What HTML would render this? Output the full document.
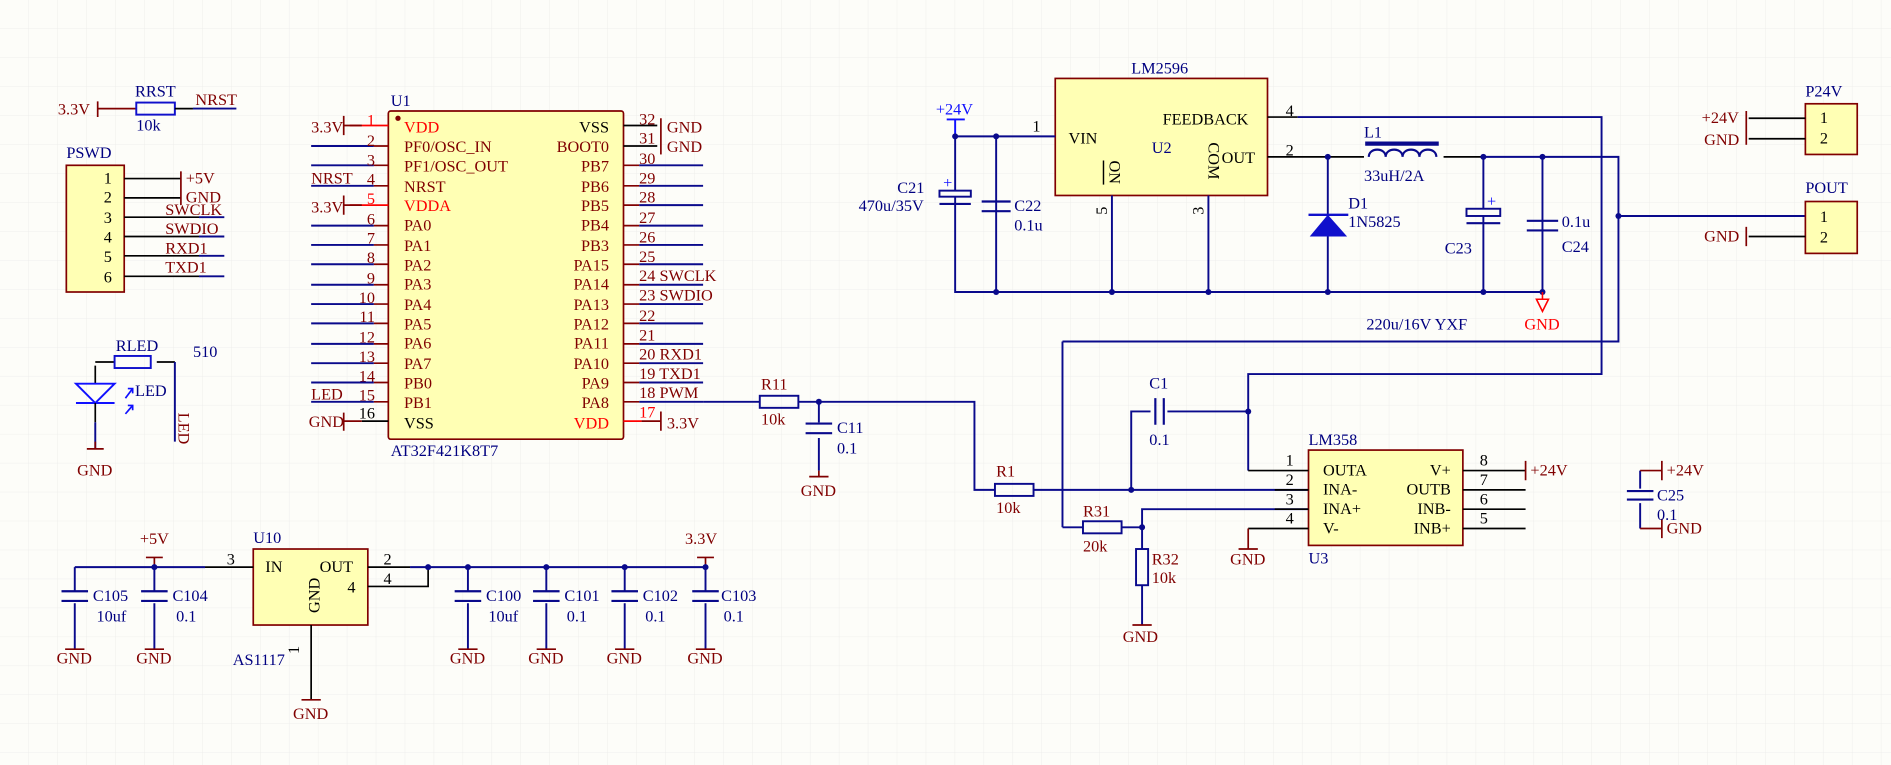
<!DOCTYPE html>
<html><head><meta charset="utf-8"><style>
html,body{margin:0;padding:0;background:#fdfdf9;}
svg{display:block}
text{font-family:"Liberation Serif",serif;font-size:13.5px;}
.r{fill:#800000}.b{fill:#000080}.k{fill:#000}.rd{fill:#ff0000}.bl{fill:#1010ff}
.w{stroke:#0a0a8c;stroke-width:1.6;fill:none}
.p{stroke:#000;stroke-width:1.4;fill:none}
.pr{stroke:#800000;stroke-width:1.4;fill:none}
.box{fill:#ffffb4;stroke:#800000;stroke-width:1.4}
.c{stroke:#0a0a8c;stroke-width:1.8;fill:none}
</style></head><body>
<svg width="1891" height="765" viewBox="0 0 1568 634" preserveAspectRatio="none">
<defs><pattern id="g" width="24" height="24" patternUnits="userSpaceOnUse"><path d="M24 0V24H0" fill="none" stroke="#ececea" stroke-width="0.7"/></pattern></defs>
<rect width="1568" height="634" fill="url(#g)"/>

<!-- RRST -->
<path class="pr" d="M81 84V97M81 90H113"/><text class="r" x="48" y="95">3.3V</text>
<rect x="113" y="85" width="32" height="10" fill="none" stroke="#1010cc" stroke-width="1.6"/>
<path class="p" d="M145 90H160"/><path class="w" d="M160 90H196"/>
<text class="b" x="112" y="80">RRST</text><text class="b" x="113" y="108">10k</text><text class="r" x="162" y="87">NRST</text>

<!-- PSWD -->
<text class="b" x="55" y="131">PSWD</text>
<rect class="box" x="55" y="137" width="48" height="105"/>
<g class="k"><text x="86" y="152">1</text><text x="86" y="168">2</text><text x="86" y="185">3</text><text x="86" y="201">4</text><text x="86" y="217">5</text><text x="86" y="234">6</text></g>
<path class="p" d="M103 148H150M103 164H150M103 180H165M103 196H165M103 212H165M103 229H165"/>
<path class="w" d="M165 180H186M165 196H186M165 212H186M165 229H186"/>
<path class="pr" d="M150 142V170"/>
<text class="r" x="154" y="152">+5V</text><text class="r" x="154" y="168">GND</text>
<text class="r" x="137" y="178">SWCLK</text><text class="r" x="137" y="194">SWDIO</text><text class="r" x="137" y="210">RXD1</text><text class="r" x="137" y="226">TXD1</text>

<!-- LED -->
<text class="b" x="96" y="291">RLED</text><text class="b" x="160" y="296">510</text>
<path class="p" d="M79 303V318M79 300H95M130 300H145"/>
<rect x="95" y="295" width="30" height="10" fill="none" stroke="#1010cc" stroke-width="1.6"/>
<path class="w" d="M145 300V366"/>
<path d="M63 318L95 318L79 334Z" fill="none" stroke="#1010ff" stroke-width="1.6"/><path d="M63 334H95" stroke="#1010ff" stroke-width="1.6"/>
<path d="M104 330L110 322M106 322H110V326M104 343L110 336M106 336H110V340" stroke="#1010ff" stroke-width="1.4" fill="none"/>
<text class="b" x="112" y="328">LED</text>
<text class="r" x="148" y="342" transform="rotate(90 148 342)">LED</text>
<path class="p" d="M79 334V350"/><path class="w" d="M79 350V372"/><path class="pr" d="M72 372H86M79 366V372"/>
<text class="r" x="64" y="394">GND</text>

<!-- U1 -->
<text class="b" x="324" y="88">U1</text>
<rect class="box" x="322" y="92" width="195" height="272" rx="2"/>
<circle cx="330" cy="98" r="2.2" fill="#800000"/>
<text class="b" x="324" y="378">AT32F421K8T7</text>
<g id="L">
<path class="w" d="M258 121H310M258 137H310M258 154H310M258 187H310M258 203H310M258 219H310M258 236H310M258 252H310M258 268H310M258 285H310M258 301H310M258 317H310M258 333H310"/>
<path class="pr" d="M310 121H322M310 137H322M310 154H322M310 187H322M310 203H322M310 219H322M310 236H322M310 252H322M310 268H322M310 285H322M310 301H322M310 317H322M310 333H322"/>
<path class="p" d="M300 349H322"/>
<path d="M290 104H322M290 170H322" stroke="#ff0000" stroke-width="1.4"/>
<path class="pr" d="M285 96V112M285 162V178M285 342V357M285 104H300M285 170H300M285 349H300"/>
</g>
<text class="r" x="258" y="110">3.3V</text><text class="r" x="258" y="176">3.3V</text><text class="r" x="258" y="152">NRST</text><text class="r" x="258" y="331">LED</text><text class="r" x="256" y="354">GND</text>
<g class="r" text-anchor="end">
<text class="rd" x="311" y="104">1</text><text x="311" y="121">2</text><text x="311" y="137">3</text><text x="311" y="153">4</text><text class="rd" x="311" y="169">5</text><text x="311" y="186">6</text><text x="311" y="202">7</text><text x="311" y="218">8</text><text x="311" y="235">9</text><text x="311" y="251">10</text><text x="311" y="267">11</text><text x="311" y="284">12</text><text x="311" y="300">13</text><text x="311" y="316">14</text><text x="311" y="332">15</text><text class="k" x="311" y="347">16</text>
</g>
<g class="r">
<text class="rd" x="335" y="110">VDD</text><text x="335" y="126">PF0/OSC_IN</text><text x="335" y="142">PF1/OSC_OUT</text><text x="335" y="159">NRST</text><text class="rd" x="335" y="175">VDDA</text><text x="335" y="191">PA0</text><text x="335" y="208">PA1</text><text x="335" y="224">PA2</text><text x="335" y="240">PA3</text><text x="335" y="257">PA4</text><text x="335" y="273">PA5</text><text x="335" y="289">PA6</text><text x="335" y="306">PA7</text><text x="335" y="322">PB0</text><text x="335" y="338">PB1</text><text class="k" x="335" y="355">VSS</text>
</g>
<g class="r" text-anchor="end">
<text class="k" x="505" y="110">VSS</text><text x="505" y="126">BOOT0</text><text x="505" y="142">PB7</text><text x="505" y="159">PB6</text><text x="505" y="175">PB5</text><text x="505" y="191">PB4</text><text x="505" y="208">PB3</text><text x="505" y="224">PA15</text><text x="505" y="240">PA14</text><text x="505" y="257">PA13</text><text x="505" y="273">PA12</text><text x="505" y="289">PA11</text><text x="505" y="306">PA10</text><text x="505" y="322">PA9</text><text x="505" y="338">PA8</text><text class="rd" x="505" y="355">VDD</text>
</g>
<path class="p" d="M517 104H545M517 121H545"/>
<path class="pr" d="M548 98V128"/>
<path class="w" d="M530 137H583M530 154H583M530 170H583M530 187H583M530 203H583M530 219H583M530 236H583M530 252H583M530 268H583M530 285H583M530 301H583M530 317H583M530 333H583"/>
<path class="pr" d="M517 137H530M517 154H530M517 170H530M517 187H530M517 203H530M517 219H530M517 236H530M517 252H530M517 268H530M517 285H530M517 301H530M517 317H530M517 333H530"/>
<path d="M517 349H532" stroke="#ff0000" stroke-width="1.4"/><path class="pr" d="M532 349H548M548 341V357"/>
<g class="r">
<text x="530" y="103">32</text><text x="530" y="119">31</text><text x="530" y="136">30</text><text x="530" y="152">29</text><text x="530" y="168">28</text><text x="530" y="185">27</text><text x="530" y="201">26</text><text x="530" y="217">25</text><text x="530" y="233">24 SWCLK</text><text x="530" y="249">23 SWDIO</text><text x="530" y="266">22</text><text x="530" y="282">21</text><text x="530" y="298">20 RXD1</text><text x="530" y="314">19 TXD1</text><text x="530" y="330">18 PWM</text><text class="rd" x="530" y="346">17</text>
<text x="553" y="110">GND</text><text x="553" y="126">GND</text><text x="553" y="355">3.3V</text>
</g>

<!-- R11 / C11 -->
<path class="w" d="M583 333H630M662 333H808V406H825M679 333V350M679 363V390"/>
<circle cx="679" cy="333" r="2.5" fill="#0a0a8c"/>
<rect x="630" y="328" width="32" height="10" fill="none" stroke="#0a0a8c" stroke-width="1.6"/>
<text class="r" x="631" y="323">R11</text><text class="r" x="631" y="352">10k</text>
<path class="c" d="M668 351H690M668 359H690"/>
<text class="b" x="694" y="359">C11</text><text class="b" x="694" y="376">0.1</text>
<path class="pr" d="M671 395H687M679 390V395"/><text class="r" x="664" y="411">GND</text>

<!-- R1 -->
<rect x="825" y="401" width="32" height="10" fill="none" stroke="#0a0a8c" stroke-width="1.6"/>
<text class="r" x="826" y="395">R1</text><text class="r" x="826" y="425">10k</text>
<path class="w" d="M857 406H1085M938 406V341H954M968 341H1035"/>
<circle cx="938" cy="406" r="2.5" fill="#0a0a8c"/><circle cx="1035" cy="341" r="2.5" fill="#0a0a8c"/>
<path class="c" d="M958 330V352M965 330V352"/>
<text class="b" x="953" y="322">C1</text><text class="b" x="953" y="369">0.1</text>

<!-- R31 R32 -->
<path class="w" d="M881 437H898M930 437H947V422H1085M947 437V455M947 485V518M881 283V437"/>
<circle cx="947" cy="437" r="2.5" fill="#0a0a8c"/>
<rect x="898" y="432" width="32" height="10" fill="none" stroke="#0a0a8c" stroke-width="1.6"/>
<rect x="942" y="455" width="10" height="30" fill="none" stroke="#0a0a8c" stroke-width="1.6"/>
<text class="r" x="898" y="428">R31</text><text class="r" x="898" y="457">20k</text>
<text class="r" x="955" y="468">R32</text><text class="r" x="955" y="483">10k</text>
<path class="pr" d="M939 518H955"/><text class="r" x="931" y="532">GND</text>

<!-- U3 -->
<rect class="box" x="1085" y="373" width="128" height="79"/>
<text class="b" x="1085" y="369">LM358</text><text class="b" x="1085" y="467">U3</text>
<path class="w" d="M1035 341V390"/>
<path class="p" d="M1035 390H1085M1057 406H1085M1057 422H1085M1035 438H1085M1213 390H1265M1213 406H1265M1213 422H1265M1213 438H1265"/>
<path class="pr" d="M1035 438V455M1027 455H1043M1265 382V398"/>
<text class="r" x="1020" y="468">GND</text>
<g class="k"><text x="1066" y="386">1</text><text x="1066" y="402">2</text><text x="1066" y="418">3</text><text x="1066" y="434">4</text>
<text x="1227" y="386">8</text><text x="1227" y="402">7</text><text x="1227" y="418">6</text><text x="1227" y="434">5</text>
<text x="1097" y="394">OUTA</text><text x="1097" y="410">INA-</text><text x="1097" y="426">INA+</text><text x="1097" y="442">V-</text></g>
<g class="k" text-anchor="end"><text x="1203" y="394">V+</text><text x="1203" y="410">OUTB</text><text x="1203" y="426">INB-</text><text x="1203" y="442">INB+</text></g>
<text class="r" x="1269" y="394">+24V</text>

<!-- LM2596 -->
<rect class="box" x="875" y="65" width="176" height="97"/>
<text class="b" x="938" y="61">LM2596</text>
<g class="k"><text x="886" y="119">VIN</text><text x="964" y="103">FEEDBACK</text><text x="1013" y="135">OUT</text><text x="856" y="109">1</text><text x="1066" y="96">4</text><text x="1066" y="129">2</text>
<text x="920" y="133" transform="rotate(90 920 133)" font-size="12">ON</text>
<text x="1002" y="118" transform="rotate(90 1002 118)" font-size="12">COM</text>
<text x="918" y="178" transform="rotate(-90 918 178)" font-size="11">5</text>
<text x="998" y="178" transform="rotate(-90 998 178)" font-size="11">3</text></g>
<path d="M915 133V153" stroke="#000" stroke-width="1.2"/>
<text class="b" x="955" y="127">U2</text>
<text class="bl" x="776" y="95">+24V</text>
<path d="M785 99H800M792 99V113" stroke="#1010ff" stroke-width="1.6"/>
<path class="w" d="M792 113H875M792 113V242H1280M826 113V242M922 162V242M1002 162V242M1101 130V242M1230 130V242M1279 130V242"/>
<path class="p" d="M1051 97H1076M1051 130H1131M1197 130H1230"/>
<path class="w" d="M1076 97H1328V310H1035V341M1230 130H1342V283H881M1342 179H1497"/>
<g fill="#0a0a8c"><circle cx="792" cy="113" r="2.5"/><circle cx="826" cy="113" r="2.5"/><circle cx="826" cy="242" r="2.5"/><circle cx="922" cy="242" r="2.5"/><circle cx="1002" cy="242" r="2.5"/><circle cx="1101" cy="242" r="2.5"/><circle cx="1230" cy="242" r="2.5"/><circle cx="1279" cy="242" r="2.5"/><circle cx="1101" cy="130" r="2.5"/><circle cx="1230" cy="130" r="2.5"/><circle cx="1279" cy="130" r="2.5"/><circle cx="1342" cy="179" r="2.5"/></g>
<rect x="779" y="158" width="26" height="5" fill="#fdfdf9" stroke="#0a0a8c" stroke-width="1.6"/><path class="c" d="M779 169H805"/>
<text class="bl" x="782" y="156" font-size="11">+</text>
<text class="b" x="744" y="160">C21</text><text class="b" x="712" y="175">470u/35V</text>
<path class="c" d="M814 167H838M814 175H838"/>
<text class="b" x="841" y="175">C22</text><text class="b" x="841" y="191">0.1u</text>
<path d="M1135 130c0-8 14-8 14 0c0-8 14-8 14 0c0-8 14-8 14 0c0-8 14-8 14 0" fill="none" stroke="#0a0a8c" stroke-width="1.8"/>
<path d="M1132 119H1193" stroke="#0a0a8c" stroke-width="3.5"/>
<text class="b" x="1131" y="114">L1</text><text class="b" x="1131" y="150">33uH/2A</text>
<path d="M1086 196H1117L1101 178Z" fill="#1010cc"/><path d="M1085 178H1118" stroke="#1010cc" stroke-width="2"/>
<text class="b" x="1118" y="173">D1</text><text class="b" x="1118" y="188">1N5825</text>
<rect x="1216" y="173" width="28" height="6" fill="#fdfdf9" stroke="#0a0a8c" stroke-width="1.6"/><path class="c" d="M1216 185H1244"/>
<text class="bl" x="1233" y="171" font-size="11">+</text>
<text class="b" x="1198" y="210">C23</text>
<path class="c" d="M1266 183H1292M1266 191H1292"/>
<text class="b" x="1295" y="188">0.1u</text><text class="b" x="1295" y="209">C24</text>
<text class="b" x="1133" y="273">220u/16V YXF</text>
<path d="M1279 242V248M1274 248H1284L1279 258Z" stroke="#ff0000" stroke-width="1.3" fill="none"/>
<text class="rd" x="1264" y="273">GND</text>

<!-- P24V / POUT -->
<text class="b" x="1497" y="80">P24V</text>
<rect class="box" x="1497" y="86" width="43" height="42"/>
<text class="k" x="1509" y="102">1</text><text class="k" x="1509" y="119">2</text>
<path class="p" d="M1450 98H1497M1450 115H1497"/><path class="pr" d="M1448 92V120"/>
<text class="r" x="1411" y="102">+24V</text><text class="r" x="1413" y="120">GND</text>
<text class="b" x="1497" y="160">POUT</text>
<rect class="box" x="1497" y="167" width="43" height="43"/>
<text class="k" x="1509" y="184">1</text><text class="k" x="1509" y="201">2</text>
<path class="p" d="M1450 196H1497"/><path class="pr" d="M1448 188V204"/>
<text class="r" x="1413" y="200">GND</text>

<!-- C25 -->
<path class="w" d="M1360 390V405M1360 417V438"/><path class="pr" d="M1360 390H1378M1378 382V398M1360 438H1378M1378 430V446"/>
<path class="c" d="M1349 407H1371M1349 414H1371"/>
<text class="b" x="1374" y="415">C25</text><text class="b" x="1374" y="431">0.1</text>
<text class="r" x="1382" y="394">+24V</text><text class="r" x="1382" y="442">GND</text>

<!-- Bottom regulator -->
<rect class="box" x="210" y="455" width="95" height="63"/>
<text class="b" x="210" y="450">U10</text>
<text class="k" x="220" y="474">IN</text><text class="k" x="265" y="474">OUT</text><text class="k" x="288" y="491">4</text>
<text class="k" x="265" y="508" transform="rotate(-90 265 508)">GND</text>
<text class="k" x="188" y="468">3</text><text class="k" x="318" y="468">2</text><text class="k" x="318" y="484">4</text>
<text class="k" x="248" y="542" transform="rotate(-90 248 542)" font-size="12">1</text>
<text class="b" x="193" y="551">AS1117</text>
<path class="p" d="M258 518V580M305 470H340M305 486H355V470M170 470H210"/>
<path class="pr" d="M250 580H266M128 462V470M585 462V470M121 462H135M578 462H592"/>
<text class="r" x="243" y="596">GND</text>
<text class="r" x="116" y="451">+5V</text><text class="r" x="568" y="451">3.3V</text>
<path class="w" d="M62 470H170M62 470V490M62 500V538M128 470V490M128 500V538M340 470H585M388 470V490M388 500V538M453 470V490M453 500V538M518 470V490M518 500V538M585 470V490M585 500V538"/>
<g fill="#0a0a8c"><circle cx="128" cy="470" r="2.5"/><circle cx="355" cy="470" r="2.5"/><circle cx="388" cy="470" r="2.5"/><circle cx="453" cy="470" r="2.5"/><circle cx="518" cy="470" r="2.5"/><circle cx="585" cy="470" r="2.5"/></g>
<path class="c" d="M51 490H73M51 498H73M117 490H139M117 498H139M377 490H399M377 498H399M442 490H464M442 498H464M507 490H529M507 498H529M574 490H596M574 498H596"/>
<g class="b"><text x="77" y="498">C105</text><text x="80" y="515">10uf</text><text x="143" y="498">C104</text><text x="146" y="515">0.1</text>
<text x="403" y="498">C100</text><text x="405" y="515">10uf</text><text x="468" y="498">C101</text><text x="470" y="515">0.1</text>
<text x="533" y="498">C102</text><text x="535" y="515">0.1</text><text x="598" y="498">C103</text><text x="600" y="515">0.1</text></g>
<path class="pr" d="M54 538H70M120 538H136M380 538H396M445 538H461M510 538H526M577 538H593"/>
<g class="r"><text x="47" y="550">GND</text><text x="113" y="550">GND</text><text x="373" y="550">GND</text><text x="438" y="550">GND</text><text x="503" y="550">GND</text><text x="570" y="550">GND</text></g>
</svg>
</body></html>
